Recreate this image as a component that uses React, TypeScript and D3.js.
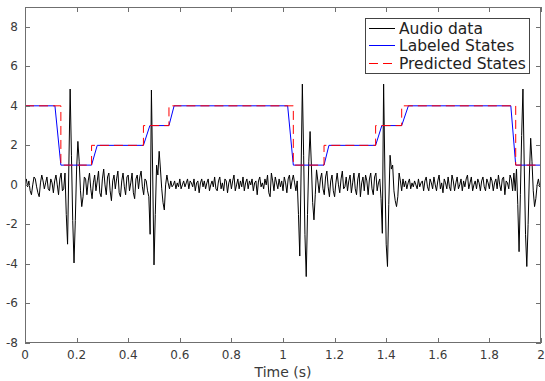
import React from "react";
import * as d3 from "d3";

// ---- data ----
const sampleStep = 0.005; // seconds between audio samples
const audioValue: number[] = [
  0.1, 0.3, -0.1, 0.2, -0.3, -0.5, 0.0, 0.4, 0.3, -0.1,
  -0.4, -0.6, 0.1, 0.5, 0.2, -0.2, 0.1, 0.4, -0.2, -0.3,
  0.3, 0.1, -0.4, 0.2, 0.5, 0.0, -0.5, 0.3, 0.6, -0.3,
  -0.2, 0.6, -1.5, -3.0, 1.0, 4.85, 1.5, -1.8, -3.95, -1.8,
  0.8, 2.2, 1.2, -0.3, -1.1, -0.6, 0.4, 0.3, -0.5, 0.2,
  0.6, -0.2, -0.7, 0.1, 0.5, -0.3, 0.2, 0.7, -0.4, -0.6,
  0.3, 0.8, 0.0, -0.5, 0.4, 0.6, -0.3, -0.8, 0.2, 0.5,
  -0.2, 0.3, 0.7, -0.4, -0.6, 0.2, 0.6, -0.1, -0.5, 0.4,
  0.5, -0.3, 0.1, 0.6, -0.4, -0.7, 0.3, 0.5, -0.2, 0.4,
  0.7, -0.1, -0.5, 0.3, 0.2, -0.3, -0.6, -2.5, 4.8, 0.5,
  -4.05, -1.5, 1.0, 0.5, 1.7, 0.8, -0.2, -0.9, -1.27, 0.0,
  0.5, 0.1, -0.2, 0.2, -0.1, 0.0, 0.2, -0.2, 0.1, -0.1,
  0.3, -0.2, 0.0, 0.2, -0.1, 0.1, 0.3, -0.2, 0.2, 0.1,
  -0.1, 0.3, -0.3, 0.1, 0.2, -0.4, 0.1, 0.3, -0.1, 0.2,
  -0.2, 0.1, 0.3, -0.3, 0.0, 0.2, -0.1, 0.4, -0.2, -0.3,
  0.2, 0.4, -0.2, 0.1, -0.3, 0.3, 0.2, -0.4, 0.1, 0.3,
  -0.2, 0.2, 0.5, -0.3, 0.0, 0.3, -0.2, 0.2, -0.1, 0.4,
  -0.3, 0.1, 0.3, -0.2, 0.2, 0.0, 0.3, -0.3, 0.1, 0.2,
  -0.5, 0.2, 0.4, -0.1, 0.1, -0.2, 0.3, 0.0, 0.5, -0.4,
  -0.6, 0.6, 0.2, -0.3, 0.4, 0.1, -0.2, 0.3, -0.1, 0.2,
  -0.3, 0.4, 0.1, -0.4, 0.3, 0.5, -0.2, 0.2, 0.5, 0.1,
  -0.3, 0.2, -1.5, -3.6, 0.5, 5.1, 1.5, -2.5, -4.64, -1.5,
  1.2, 2.7, 1.0, -0.9, -1.77, -0.5, 0.76, 0.2, -0.4, 0.3,
  0.6, -0.2, -0.5, 0.4, 0.7, -0.1, -0.6, 0.2, 0.5, -0.3,
  -0.6, 0.1, 0.6, 0.0, -0.4, 0.3, 0.7, -0.2, -0.1, 0.4,
  -0.3, 0.2, 0.5, -0.4, 0.1, 0.6, -0.2, -0.5, 0.3, 0.6,
  -0.6, 0.1, 0.4, -0.3, 0.5, 0.2, -0.5, 0.3, 0.6, -0.2,
  -0.5, 0.4, 0.6, -0.3, 0.1, 0.3, -0.7, -2.45, 5.1, 0.5,
  -3.0, -4.13, -1.0, 1.5, 0.8, 1.0, -0.3, -0.8, -1.1, -0.6,
  0.6, 0.2, -0.3, 0.3, -0.1, 0.2, -0.2, 0.1, 0.3, -0.2,
  0.1, -0.1, 0.2, 0.0, -0.2, 0.3, -0.1, 0.1, 0.2, -0.3,
  0.2, 0.4, -0.1, -0.3, 0.3, 0.1, -0.2, 0.4, 0.0, -0.3,
  0.2, 0.5, -0.2, 0.1, -0.4, 0.3, 0.1, -0.2, 0.4, -0.1,
  -0.3, 0.5, 0.2, -0.3, 0.1, 0.4, -0.2, 0.0, 0.3, -0.3,
  0.2, -0.1, 0.3, 0.5, -0.2, 0.1, 0.4, -0.3, 0.0, 0.2,
  -0.2, 0.3, 0.1, -0.3, 0.2, 0.4, -0.1, -0.3, 0.3, 0.1,
  -0.2, 0.4, 0.2, -0.3, 0.1, 0.3, -0.2, 0.5, 0.0, -0.3,
  0.3, 0.4, -0.5, 0.2, 0.1, -0.2, 0.5, 0.3, -0.3, 0.6,
  -0.3, 0.8, -1.0, -3.38, -0.5, 2.5, 4.85, 1.0, -2.5, -4.13,
  -2.0, 0.5, 2.36, 1.2, -0.3, -1.1, -0.7, 0.0, 0.3, -0.1, 0.2,
];

const labeledTime = [0, 0.116, 0.139, 0.258, 0.28, 0.459, 0.484, 0.558, 0.578, 1.018, 1.04, 1.159, 1.178, 1.359, 1.383, 1.46, 1.486, 1.883, 1.902, 2.0];
const labeledValue = [4, 4, 1, 1, 2, 2, 3, 3, 4, 4, 1, 1, 2, 2, 3, 3, 4, 4, 1, 1];

const predictedTime = [0, 0.139, 0.258, 0.459, 0.558, 1.04, 1.159, 1.359, 1.46, 1.902, 2.0];
const predictedValue = [4, 1, 2, 3, 4, 1, 2, 3, 4, 1, 1];

const xTicks = [0, 0.2, 0.4, 0.6, 0.8, 1, 1.2, 1.4, 1.6, 1.8, 2];
const xTickLabels = ["0", "0.2", "0.4", "0.6", "0.8", "1", "1.2", "1.4", "1.6", "1.8", "2"];
const yTicks = [-8, -6, -4, -2, 0, 2, 4, 6, 8];
const yTickLabels = ["-8", "-6", "-4", "-2", "0", "2", "4", "6", "8"];

const legendLabels = ["Audio data", "Labeled States", "Predicted States"];
const legendColors = ["#000000", "#0000ff", "#ff0000"];
const legendDash = ["none", "none", "9,5"];
const xLabel = "Time (s)";

// ---- layout ----
const W = 545;
const H = 381;
const L = 25, R = 541, T = 7, B = 343;
const FONT = "DejaVu Sans, sans-serif";
const AXIS = "#6f6f6f";
const TEXT = "#3a3a3a";

export default function App() {
  const x = d3.scaleLinear().domain([0, 2]).range([L, R]);
  const y = d3.scaleLinear().domain([-8, 9]).range([B, T]);

  const audioPts: [number, number][] = audioValue.map((v, i) => [i * sampleStep, v]);
  const labeledPts: [number, number][] = labeledTime.map((t, i) => [t, labeledValue[i]]);
  const predictedPts: [number, number][] = predictedTime.map((t, i) => [t, predictedValue[i]]);

  const line = d3.line<[number, number]>().x((d) => x(d[0])).y((d) => y(d[1]));
  const stepLine = d3
    .line<[number, number]>()
    .x((d) => x(d[0]))
    .y((d) => y(d[1]))
    .curve(d3.curveStepAfter);

  const tickLen = 5;
  const legX = 365, legY = 18, legW = 164, legH = 55;
  const rowY = [28.5, 45.5, 63.5];

  return (
    <svg
      width={W}
      height={H}
      style={{ position: "absolute", left: 0, top: 0, background: "#fff" }}
      fontFamily={FONT}
    >
      <rect x={0} y={0} width={W} height={H} fill="#fff" />
      <defs>
        <clipPath id="plot">
          <rect x={L} y={T} width={R - L} height={B - T} />
        </clipPath>
      </defs>
      <g clipPath="url(#plot)">
        <path d={line(audioPts) || ""} fill="none" stroke="#000" strokeWidth={1} strokeLinejoin="round" />
        <path d={line(labeledPts) || ""} fill="none" stroke="#0000ff" strokeWidth={1} />
        <path d={stepLine(predictedPts) || ""} fill="none" stroke="#ff0000" strokeWidth={1} strokeDasharray="9,5" />
      </g>

      {/* box */}
      <rect x={L + 0.5} y={T + 0.5} width={R - L - 1} height={B - T - 1} fill="none" stroke={AXIS} strokeWidth={1} />

      {/* x ticks */}
      {xTicks.map((t, i) => {
        const px = Math.round(x(t)) + 0.5;
        return (
          <g key={"xt" + i}>
            <line x1={px} x2={px} y1={B} y2={B - tickLen} stroke={AXIS} />
            <line x1={px} x2={px} y1={T} y2={T + tickLen} stroke={AXIS} />
            <text x={x(t)} y={B + 16} textAnchor="middle" fontSize={12} fill={TEXT}>
              {xTickLabels[i]}
            </text>
          </g>
        );
      })}
      {/* y ticks */}
      {yTicks.map((v, i) => {
        const py = Math.round(y(v)) + 0.5;
        return (
          <g key={"yt" + i}>
            <line x1={L} x2={L + tickLen} y1={py} y2={py} stroke={AXIS} />
            <line x1={R} x2={R - tickLen} y1={py} y2={py} stroke={AXIS} />
            <text x={L - 7} y={y(v) + 4} textAnchor="end" fontSize={12} fill={TEXT}>
              {yTickLabels[i]}
            </text>
          </g>
        );
      })}

      <text x={(L + R) / 2} y={377} textAnchor="middle" fontSize={14} fill={TEXT}>
        {xLabel}
      </text>

      {/* legend */}
      <rect x={legX + 0.5} y={legY + 0.5} width={legW} height={legH} fill="#fff" stroke="#444" strokeWidth={1} />
      {legendLabels.map((s, i) => (
        <g key={s}>
          <line
            x1={369}
            x2={395}
            y1={rowY[i]}
            y2={rowY[i]}
            stroke={legendColors[i]}
            strokeWidth={1}
            strokeDasharray={legendDash[i]}
          />
          <text x={399} y={rowY[i] + 5.5} fontSize={15.5} fill="#222">
            {s}
          </text>
        </g>
      ))}
    </svg>
  );
}
